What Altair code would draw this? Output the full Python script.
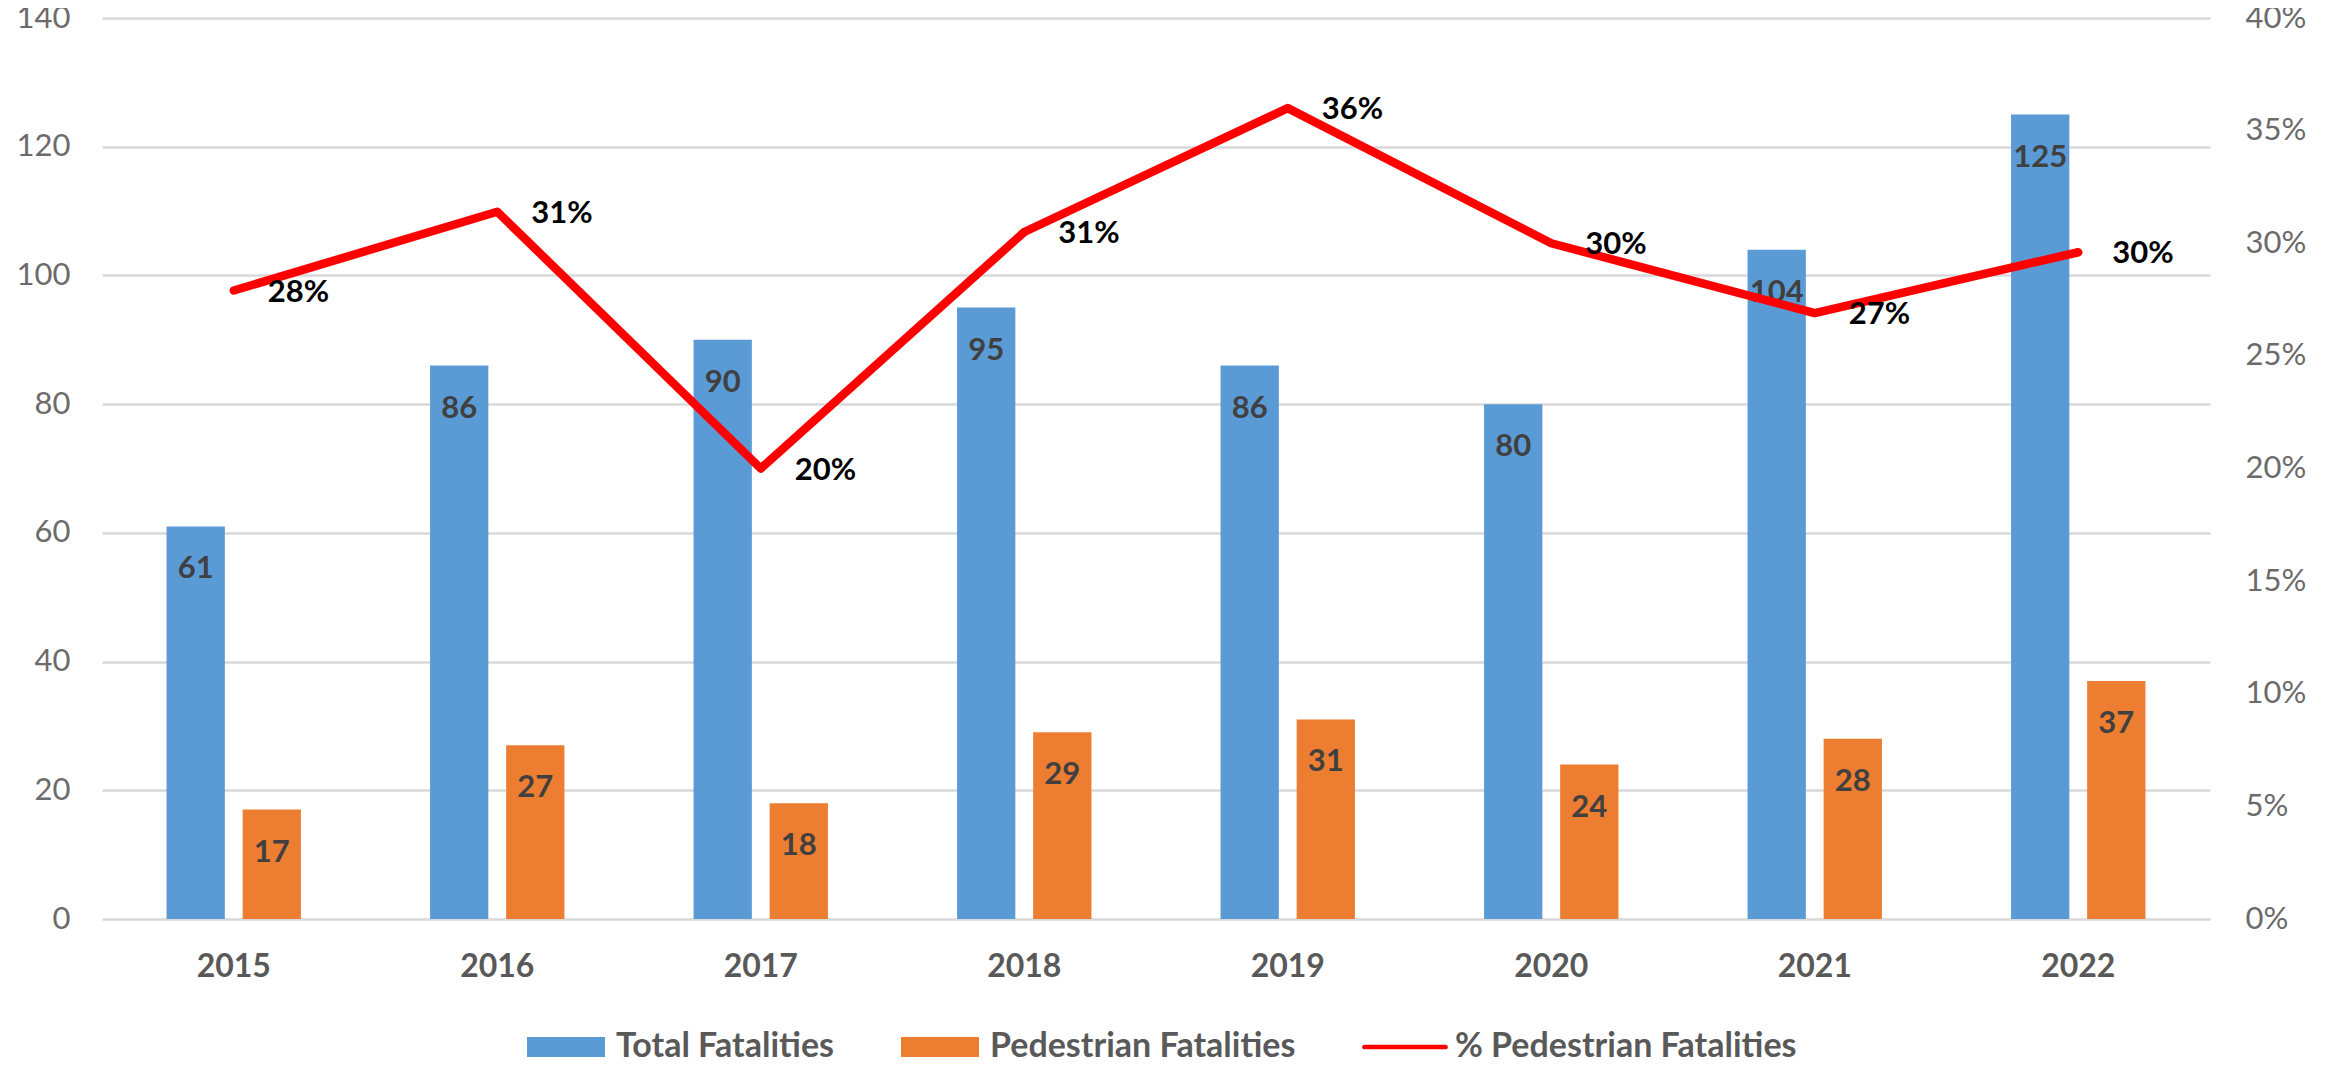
import altair as alt
import pandas as pd

years = ["2015", "2016", "2017", "2018", "2019", "2020", "2021", "2022"]
total_fatalities = [61, 86, 90, 95, 86, 80, 104, 125]
pedestrian_fatalities = [17, 27, 18, 29, 31, 24, 28, 37]
pct_pedestrian = [0.279, 0.314, 0.200, 0.305, 0.360, 0.300, 0.269, 0.296]
series_names = ["Total Fatalities", "Pedestrian Fatalities", "% Pedestrian Fatalities"]
series_colors = ["#5B9BD5", "#ED7D31", "#FF0000"]
left_ticks = [0, 20, 40, 60, 80, 100, 120, 140]
right_ticks = [0, 0.05, 0.10, 0.15, 0.20, 0.25, 0.30, 0.35, 0.40]

bars_df = pd.DataFrame({
    "year": years * 2,
    "series": [series_names[0]] * len(years) + [series_names[1]] * len(years),
    "value": total_fatalities + pedestrian_fatalities,
})
line_df = pd.DataFrame({"year": years, "pct": pct_pedestrian, "series": series_names[2]})
legend_df = pd.DataFrame({"series": series_names, "year": years[:3], "pct": pct_pedestrian[:3]})

FONT = "Lato"
GRAY = "#595959"
AXIS_GRAY = "#6B6B6B"

x_enc = alt.X(
    "year:N", sort=years,
    scale=alt.Scale(paddingInner=0.49, paddingOuter=0.245),
    axis=alt.Axis(title=None, labelAngle=0, labelFont=FONT, labelFontSize=32,
                  labelFontWeight="bold", labelColor=GRAY, ticks=False, tickSize=0,
                  domain=False, labelPadding=32, grid=False),
)
xoff_enc = alt.XOffset("series:N",
                       scale=alt.Scale(domain=series_names[:2], paddingInner=0.234, paddingOuter=0))

y_left = alt.Y(
    "value:Q", scale=alt.Scale(domain=[0, 140], nice=False),
    axis=alt.Axis(title=None, values=left_ticks, labelFont=FONT, labelFontSize=31,
                  labelColor=AXIS_GRAY, ticks=False, tickSize=0, domain=False,
                  labelPadding=32, gridColor="#D9D9D9", gridWidth=2.5),
)
y_right = alt.Y(
    "pct:Q", scale=alt.Scale(domain=[0, 0.4], nice=False),
    axis=alt.Axis(title=None, orient="right", values=right_ticks, format=".0%",
                  labelFont=FONT, labelFontSize=31, labelColor=AXIS_GRAY, ticks=False,
                  tickSize=0, domain=False, labelPadding=35, grid=False),
)

bar_layers = []
for name, col in zip(series_names[:2], series_colors[:2]):
    bar_layers.append(
        alt.Chart(bars_df).transform_filter(alt.datum.series == name)
        .mark_bar(color=col).encode(x=x_enc, xOffset=xoff_enc, y=y_left)
    )
bar_labels = alt.Chart(bars_df).mark_text(
    font=FONT, fontSize=31, fontWeight="bold", color="#404040",
    baseline="alphabetic", dy=52,
).encode(x=x_enc, xOffset=xoff_enc, y=y_left, text="value:Q")

line = alt.Chart(line_df).mark_line(
    color=series_colors[2], strokeWidth=8.5, strokeCap="round", strokeJoin="round"
).encode(x=x_enc, y=y_right)
line_labels = alt.Chart(line_df).mark_text(
    font=FONT, fontSize=31, fontWeight="bold", color="#000000",
    align="left", baseline="middle", dx=34, dy=2,
).encode(x=x_enc, y=y_right, text=alt.Text("pct:Q", format=".0%"))

rect_path = "M-1,-0.256L1,-0.256L1,0.256L-1,0.256Z"
line_path = ("M-1.04,-0.06L1.04,-0.06A0.06,0.06 0 0 1 1.04,0.06"
             "L-1.04,0.06A0.06,0.06 0 0 1 -1.04,-0.06Z")

legend_props = dict(
    orient="none", legendX=425, legendY=990, direction="horizontal",
    symbolSize=6084, symbolStrokeWidth=0, labelFont=FONT, labelFontSize=34,
    labelFontWeight="bold", labelColor=GRAY, labelOffset=11, columnPadding=66,
    labelLimit=1000,
)
legend_layer = alt.Chart(legend_df).mark_point(filled=True, size=0, opacity=1).encode(
    x=x_enc, y=y_right,
    color=alt.Color("series:N", title=None,
                    scale=alt.Scale(domain=series_names, range=series_colors),
                    legend=alt.Legend(**legend_props)),
    shape=alt.Shape("series:N", title=None,
                    scale=alt.Scale(domain=series_names, range=[rect_path, rect_path, line_path]),
                    legend=alt.Legend(**legend_props)),
)

left_layer = alt.layer(*bar_layers, bar_labels)
right_layer = alt.layer(line, line_labels, legend_layer)

chart = alt.layer(left_layer, right_layer).resolve_scale(y="independent").properties(
    width=2108, height=901,
    autosize=alt.AutoSizeParams(type="none"),
    padding={"left": 94, "top": 10, "right": 110, "bottom": 139},
    background="white",
).configure_view(stroke=None)

chart.save("out.html", embed_options={"renderer": "svg", "actions": False})
